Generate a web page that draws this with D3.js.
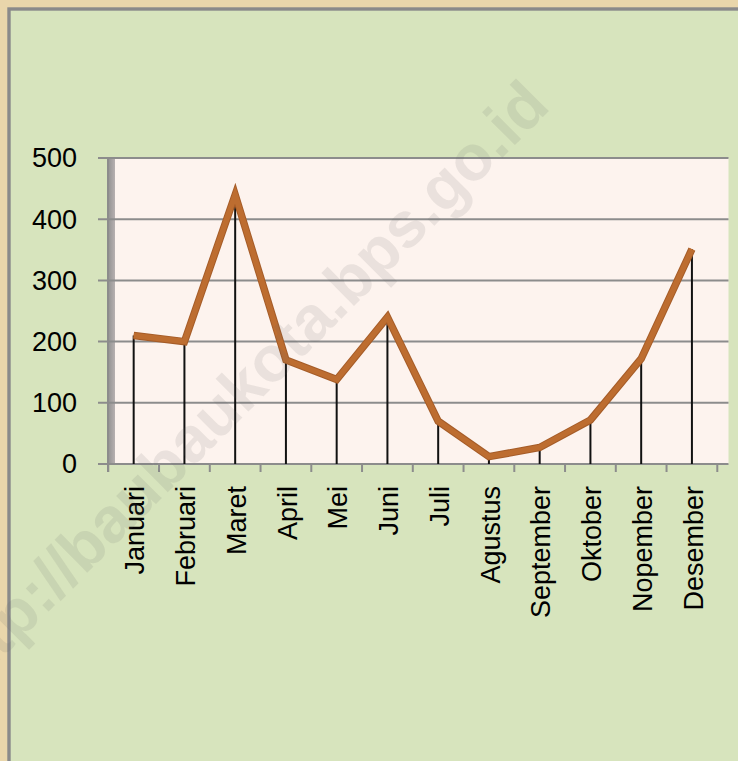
<!DOCTYPE html>
<html>
<head>
<meta charset="utf-8">
<script src="https://cdn.jsdelivr.net/npm/d3@7"></script>
<style>
  body { margin: 0; background: #e9d6ab; }
  svg { display: block; }
  text { font-family: "Liberation Sans", Arial, sans-serif; fill: #000; }
</style>
</head>
<body>
<svg id="canvas" width="738" height="761"></svg>
<script>
// data
let months = ['Januari', 'Februari', 'Maret', 'April', 'Mei', 'Juni', 'Juli',
              'Agustus', 'September', 'Oktober', 'Nopember', 'Desember'];
let values = [210, 200, 440, 170, 138, 240, 70, 12, 27, 72, 172, 351];
let yTicks = [0, 100, 200, 300, 400, 500];
let watermark = 'http://baubaukota.bps.go.id';

let svg = d3.select('#canvas');

// parchment edge + green panel
svg.append('rect').attr('width', 738).attr('height', 761).attr('fill', '#e9d6ab');
svg.append('rect')
   .attr('x', 9).attr('y', 9)
   .attr('width', 740).attr('height', 760)
   .attr('fill', '#d7e4bd')
   .attr('stroke', '#8a8a8a')
   .attr('stroke-width', 3.4);

let x = d3.scaleBand().domain(months).range([108.3, 717.3]);
let y = d3.scaleLinear().domain([0, 500]).range([464, 158]);
let cx = d => x(d) + x.bandwidth() / 2;

// back wall
svg.append('rect')
   .attr('x', 115).attr('y', y(500))
   .attr('width', 728.5 - 115).attr('height', y(0) - y(500))
   .attr('fill', '#fdf3ee');
// side wall
let wall = svg.append('defs').append('linearGradient').attr('id', 'wall');
wall.append('stop').attr('offset', '0%').attr('stop-color', '#8f8f8f');
wall.append('stop').attr('offset', '100%').attr('stop-color', '#b7b0b0');
svg.append('rect')
   .attr('x', 107.5).attr('y', y(500))
   .attr('width', 7.5).attr('height', y(0) - y(500))
   .attr('fill', 'url(#wall)');

// gridlines + y ticks
svg.append('g')
   .selectAll('line')
   .data(yTicks)
   .enter()
   .append('line')
   .attr('x1', 98).attr('x2', 728.5)
   .attr('y1', d => y(d)).attr('y2', d => y(d))
   .attr('stroke', '#8c8c8c')
   .attr('stroke-width', 2);

svg.append('line')
   .attr('x1', 108).attr('x2', 108)
   .attr('y1', y(500)).attr('y2', 472)
   .attr('stroke', '#8c8c8c').attr('stroke-width', 2);

svg.append('g')
   .selectAll('text')
   .data(yTicks)
   .enter()
   .append('text')
   .attr('x', 77)
   .attr('y', d => y(d))
   .attr('dy', '0.35em')
   .attr('text-anchor', 'end')
   .style('font-size', '27px')
   .text(d => d);

// x ticks at band edges
let edges = months.map(m => x(m)).concat([x.range()[1]]);
svg.append('g')
   .selectAll('line')
   .data(edges)
   .enter()
   .append('line')
   .attr('x1', d => d).attr('x2', d => d)
   .attr('y1', y(0)).attr('y2', 472)
   .attr('stroke', '#8c8c8c')
   .attr('stroke-width', 2);

svg.append('g')
   .selectAll('text')
   .data(months)
   .enter()
   .append('text')
   .attr('transform', d => 'translate(' + cx(d) + ',486) rotate(-90)')
   .attr('dy', '0.4em')
   .attr('text-anchor', 'end')
   .style('font-size', '27px')
   .text(d => d);

// drop lines
svg.append('g')
   .selectAll('line')
   .data(values)
   .enter()
   .append('line')
   .attr('x1', (d, i) => cx(months[i])).attr('x2', (d, i) => cx(months[i]))
   .attr('y1', d => y(d)).attr('y2', y(0))
   .attr('stroke', '#111')
   .attr('stroke-width', 2);

// series line
let line = d3.line()
   .x((d, i) => cx(months[i]))
   .y(d => y(d));
svg.append('path')
   .datum(values)
   .attr('d', line)
   .attr('fill', 'none')
   .attr('stroke', '#a55c28')
   .attr('stroke-width', 7.5)
   .attr('stroke-linejoin', 'miter');
svg.append('path')
   .datum(values)
   .attr('d', line)
   .attr('fill', 'none')
   .attr('stroke', '#bd6d30')
   .attr('stroke-width', 5.5)
   .attr('stroke-linejoin', 'miter');

// watermark
svg.append('text')
   .attr('transform', 'translate(552,108) rotate(-45)')
   .attr('text-anchor', 'end')
   .style('font-size', '64px')
   .style('font-weight', 'bold')
   .style('fill', 'rgba(100,100,100,0.12)')
   .text(watermark);
</script>
</body>
</html>
